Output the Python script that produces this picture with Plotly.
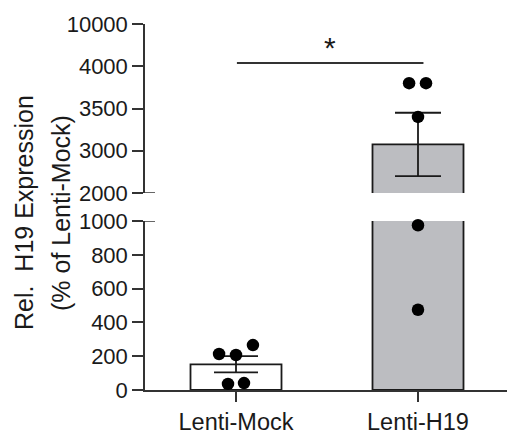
import numpy as np
import plotly.graph_objects as go

# Groups and measurements (% of Lenti-Mock)
categories = ["Lenti-Mock", "Lenti-H19"]
mock_points = [213, 207, 266, 36, 41]
h19_points = [3800, 3800, 3400, 975, 475]
group_means = [152, 3075]
err_high = [200, 3450]   # mean + SEM
err_low = [104, 2400]    # mean - SEM

# Axis labels of the two segments
lower_ticks = [0, 200, 400, 600, 800, 1000]
upper_ticks = [2000, 3000, 3500, 4000, 10000]

# horizontal spread of the dots within each group
mock_jitter = [-0.093, 0.0, 0.093, -0.044, 0.044]
h19_jitter = [-0.049, 0.044, 0.0, 0.0, 0.0]

W, H = 507, 434
FONT = "Arial, Liberation Sans, sans-serif"
INK = "#1a1a1a"
BAR_GREY = "#bcbdc1"

# upper segment: tick labels are equally spaced
upper_idx = np.arange(len(upper_ticks), dtype=float)


def upos(v):
    return np.interp(v, upper_ticks, upper_idx)


LOWER_MAX = lower_ticks[-1]
BREAK = upper_ticks[0]

fig = go.Figure()

# ---- bars ----
# lower segment
fig.add_trace(go.Bar(
    x=[0, 1], y=group_means, width=0.5,
    marker=dict(color=["white", BAR_GREY], line=dict(color=INK, width=1.8)),
    xaxis="x", yaxis="y", showlegend=False,
))
# upper segment (H19 only; starts below the visible range so the cut shows no edge)
fig.add_trace(go.Bar(
    x=[1], y=[upos(group_means[1]) + 0.3], base=[-0.3], width=0.5,
    marker=dict(color=BAR_GREY, line=dict(color=INK, width=1.8)),
    xaxis="x", yaxis="y2", showlegend=False,
))

# ---- error bars (mean ± SEM) ----
fig.add_trace(go.Scatter(
    x=[0], y=[group_means[0]], mode="markers",
    marker=dict(size=1, color="rgba(0,0,0,0)"),
    error_y=dict(type="data", symmetric=False,
                 array=[err_high[0] - group_means[0]],
                 arrayminus=[group_means[0] - err_low[0]],
                 color=INK, thickness=1.8, width=22),
    xaxis="x", yaxis="y", showlegend=False, cliponaxis=False,
))
m1 = float(upos(group_means[1]))
fig.add_trace(go.Scatter(
    x=[1], y=[m1], mode="markers",
    marker=dict(size=1, color="rgba(0,0,0,0)"),
    error_y=dict(type="data", symmetric=False,
                 array=[float(upos(err_high[1])) - m1],
                 arrayminus=[m1 - float(upos(err_low[1]))],
                 color=INK, thickness=1.8, width=23),
    xaxis="x", yaxis="y2", showlegend=False, cliponaxis=False,
))

# ---- individual data points ----
all_x, all_y = [], []
for gi, (pts, jit) in enumerate([(mock_points, mock_jitter), (h19_points, h19_jitter)]):
    for v, j in zip(pts, jit):
        all_x.append(gi + j)
        all_y.append(v)
all_x = np.array(all_x)
all_y = np.array(all_y, dtype=float)
lo = all_y < BREAK
dot = dict(size=12.5, color="black")
fig.add_trace(go.Scatter(x=all_x[lo], y=all_y[lo], mode="markers", marker=dot,
                         xaxis="x", yaxis="y", showlegend=False, cliponaxis=False))
fig.add_trace(go.Scatter(x=all_x[~lo], y=upos(all_y[~lo]), mode="markers", marker=dot,
                         xaxis="x", yaxis="y2", showlegend=False, cliponaxis=False))

# ---- layout ----
x0 = 145 / W
axis_common = dict(showgrid=False, zeroline=False, showline=True, linecolor="#333",
                   linewidth=1.5, ticks="outside", ticklen=11, tickwidth=1.5,
                   tickcolor="#333", automargin=False,
                   tickfont=dict(family=FONT, size=22, color=INK))

fig.update_layout(
    width=W, height=H,
    margin=dict(l=0, r=0, t=0, b=0, autoexpand=False),
    paper_bgcolor="white", plot_bgcolor="rgba(0,0,0,0)",
    barmode="overlay",
    xaxis=dict(domain=[x0, 1], range=[-0.5, 1.489], anchor="y",
               tickmode="array", tickvals=[0, 1], ticktext=categories,
               showgrid=False, zeroline=False, showline=True, linecolor="#333",
               linewidth=1.5, ticks="outside", ticklen=10, tickwidth=1.5,
               tickcolor="#333", automargin=False,
               tickfont=dict(family=FONT, size=23.5, color=INK)),
    yaxis=dict(domain=[(H - 390) / H, (H - 221) / H], range=[0, LOWER_MAX],
               anchor="x", tickmode="array", tickvals=lower_ticks,
               ticktext=[str(t) for t in lower_ticks], **axis_common),
    yaxis2=dict(domain=[(H - 193) / H, (H - 24) / H], range=[0, upper_idx[-1]],
                anchor="x", tickmode="array", tickvals=list(upper_idx),
                ticktext=[str(t) for t in upper_ticks], **axis_common),
)

# axis-break marks
brk = dict(type="line", xref="paper", x0=x0 - 12 / W, x1=x0 + 10 / W,
           line=dict(color="#333", width=1.5))
fig.add_shape(**brk, yref="y2", y0=0, y1=0)
fig.add_shape(**brk, yref="y", y0=LOWER_MAX, y1=LOWER_MAX)

# significance bracket
fig.add_shape(type="line", xref="x", yref="paper", x0=0.005, x1=1.03,
              y0=(H - 63) / H, y1=(H - 63) / H, line=dict(color="#333", width=1.8))
fig.add_annotation(x=0.515, y=(H - 47) / H, xref="x", yref="paper", text="*",
                   xanchor="center", yanchor="middle",
                   showarrow=False, font=dict(family=FONT, size=30, color=INK))

# y-axis title (two lines)
for txt, xp in [("Rel.  H19 Expression", 24), ("(% of Lenti-Mock)", 61)]:
    fig.add_annotation(x=xp / W, y=(H - 213) / H, xref="paper", yref="paper",
                       xanchor="center", yanchor="middle",
                       text=txt, textangle=-90, showarrow=False,
                       font=dict(family=FONT, size=25, color=INK))

fig.write_html("out.html")
